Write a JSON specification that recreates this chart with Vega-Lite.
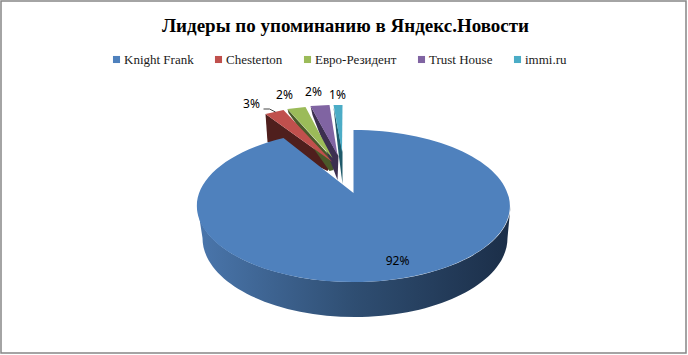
{
 "$schema":"https://vega.github.io/schema/vega-lite/v6.json",
 "width":685,"height":352,"padding":{"left":1,"top":1,"right":2,"bottom":2},"autosize":{"type":"none"},
 "background":"white",
 "view":{"stroke":"#868686","strokeWidth":1.5,"fill":"white"},
 "title":{"text":"Лидеры по упоминанию в Яндекс.Новости","anchor":"middle","font":"Liberation Serif","fontSize":19,"fontWeight":"bold","color":"#000000","dy":39,"dx":2},
 "data":{"values":[
  {"company":"Knight Frank","share":0.92},
  {"company":"Chesterton","share":0.03},
  {"company":"Евро-Резидент","share":0.02},
  {"company":"Trust House","share":0.02},
  {"company":"immi.ru","share":0.01}
 ]},
 "resolve":{"scale":{"shape":"independent"}},
 "layer":[
  {"transform":[{"filter":"datum.company !== 'Knight Frank'"}],
   "mark":{"type":"point","filled":true,"opacity":1,"size":4},
   "encoding":{
    "shape":{"field":"company","type":"nominal","legend":null,"scale":{"domain":["Chesterton","Евро-Резидент","Trust House","immi.ru"],"range":["M-78 -63 L-76 -35 L-16 -6 L-11 -15 Z","M-56 -68 L-55 -64 L-14 -6 L-10 -7 L-10 -17 Z","M-33 -71 L-31 -62 L-6 3 L-5 -21 Z","M-10 -70 L-5 -24 L-1 7 L-1 -25 Z"]}},
    "fill":{"field":"company","type":"nominal","legend":null,"scale":{"domain":["Chesterton","Евро-Резидент","Trust House","immi.ru"],"range":["#4F1F1D","#4A5A2A","#3C2F50","#1F5A6A"]}}
   }},
  {"transform":[{"filter":"datum.company !== 'Knight Frank'"}],
   "mark":{"type":"point","filled":true,"opacity":1,"size":4},
   "encoding":{
    "shape":{"field":"company","type":"nominal","legend":null,"scale":{"domain":["Chesterton","Евро-Резидент","Trust House","immi.ru"],"range":["M-78 -63 L-60 -67 L-11 -15 Z","M-56 -68 L-38 -70 L-11 -19 Z","M-33 -71 L-14 -72 L-6 -22 Z","M-10 -72 L-1 -72 L-1.5 -25 Z"]}},
    "color":{"field":"company","type":"nominal","sort":null,"scale":{"domain":["Knight Frank","Chesterton","Евро-Резидент","Trust House","immi.ru"],"range":["#4F81BD","#C0504D","#9BBB59","#8064A2","#4BACC6"]},
     "legend":{"title":null,"orient":"none","legendX":109,"legendY":52,"direction":"horizontal","columns":5,"symbolType":"square","symbolSize":50,"labelFont":"Liberation Serif","labelFontSize":13,"labelColor":"#1a1a1a","columnPadding":18,"gridAlign":"none","labelOffset":1}}
   }},
  {"transform":[{"filter":"datum.company === 'Chesterton'"}],
   "mark":{"type":"point","filled":false,"opacity":1,"size":4,"shape":"M-80 -68 L-74 -68 L-68 -65","stroke":"#444444","strokeWidth":1}},
  {"transform":[{"filter":"datum.company === 'Knight Frank'"}],
   "mark":{"type":"point","filled":true,"opacity":1,"size":4,"shape":"M-146 29 L-141 61 A152.5 79 0 0 0 164 61 L167 29 A156.5 76 0 0 1 -146 29 Z",
    "fill":{"x1":0,"y1":0,"x2":1,"y2":0,"gradient":"linear","stops":[{"offset":0,"color":"#4A76AC"},{"offset":0.5,"color":"#2F4E72"},{"offset":1,"color":"#1B2E48"}]}}},
  {"transform":[{"filter":"datum.company === 'Knight Frank'"}],
   "mark":{"type":"point","filled":true,"opacity":1,"size":4},
   "encoding":{
    "shape":{"field":"company","type":"nominal","legend":null,"scale":{"domain":["Knight Frank"],"range":["M10 16 L10 -47 A156.5 76 0 1 1 -60 -39 Z"]}},
    "color":{"field":"company","type":"nominal"}
   }},
  {"transform":[{"filter":"datum.company === 'Knight Frank'"}],
   "mark":{"type":"text","dx":54,"dy":84,"font":"Noto Sans","fontSize":12,"color":"#000000"},
   "encoding":{"text":{"field":"share","type":"quantitative","format":".0%"}}},
  {"transform":[{"filter":"datum.company === 'Chesterton'"}],
   "mark":{"type":"text","dx":-92,"dy":-73,"font":"Noto Sans","fontSize":12,"color":"#000000"},
   "encoding":{"text":{"field":"share","type":"quantitative","format":".0%"}}},
  {"transform":[{"filter":"datum.company === 'Евро-Резидент'"}],
   "mark":{"type":"text","dx":-59,"dy":-82,"font":"Noto Sans","fontSize":12,"color":"#000000"},
   "encoding":{"text":{"field":"share","type":"quantitative","format":".0%"}}},
  {"transform":[{"filter":"datum.company === 'Trust House'"}],
   "mark":{"type":"text","dx":-30,"dy":-85,"font":"Noto Sans","fontSize":12,"color":"#000000"},
   "encoding":{"text":{"field":"share","type":"quantitative","format":".0%"}}},
  {"transform":[{"filter":"datum.company === 'immi.ru'"}],
   "mark":{"type":"text","dx":-6,"dy":-82,"font":"Noto Sans","fontSize":12,"color":"#000000"},
   "encoding":{"text":{"field":"share","type":"quantitative","format":".0%"}}}
 ]
}
